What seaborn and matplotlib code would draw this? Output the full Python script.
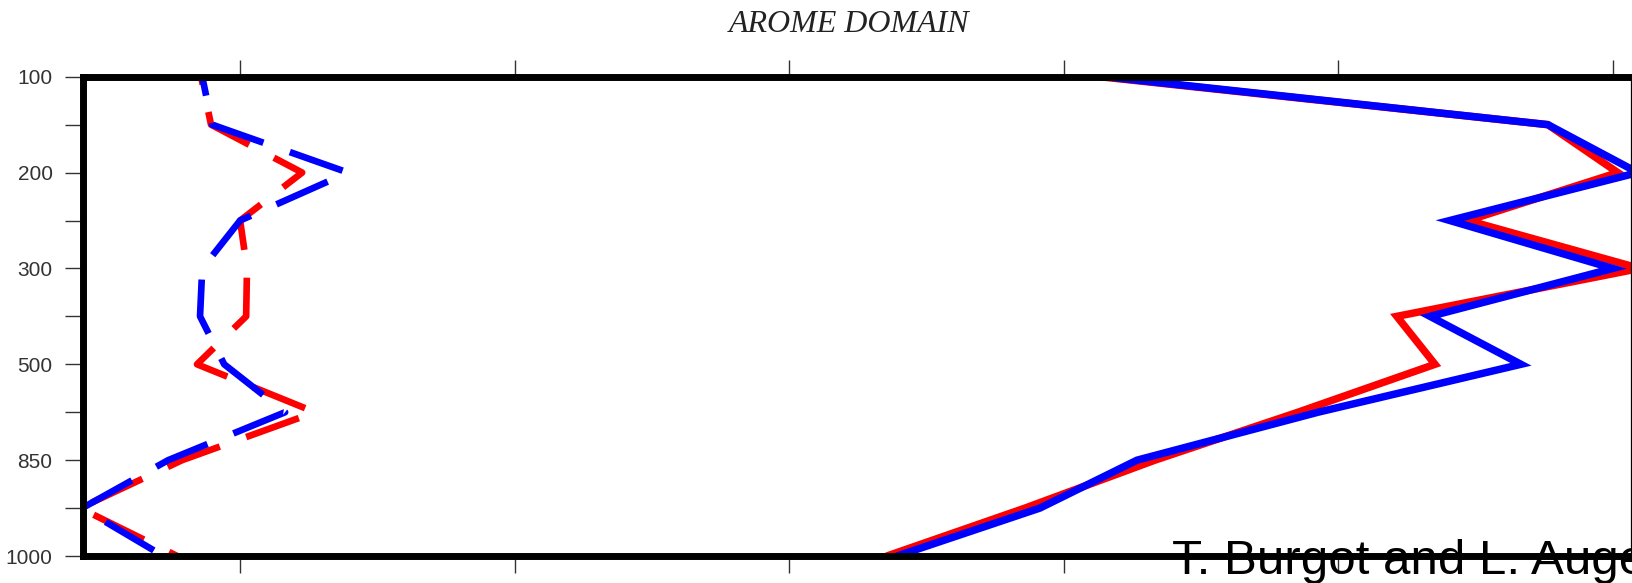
import numpy as np
import matplotlib
matplotlib.use("Agg")
import matplotlib.pyplot as plt
import seaborn as sns

# Pressure levels (hPa), drawn top to bottom at equal spacing
levels = [100, 150, 200, 250, 300, 400, 500, 700, 850, 925, 1000]
labelled_levels = [100, 200, 300, 500, 850, 1000]

# Dashed profiles (left group)
dashed_red = [0.858, 0.894, 1.226, 1.000, 1.025, 1.022, 0.843, 1.273, 0.789, 0.417, 0.771]
dashed_blue = [0.862, 0.898, 1.393, 1.000, 0.862, 0.854, 0.942, 1.164, 0.738, 0.425, 0.720]

# Solid profiles (right group)
solid_red = [4.132, 5.763, 6.018, 5.472, 6.098, 5.213, 5.352, 4.853, 4.332, 3.859, 3.356]
solid_blue = [4.150, 5.763, 6.091, 5.406, 6.000, 5.334, 5.665, 4.926, 4.267, 3.913, 3.393]

x_ticks = [1, 2, 3, 4, 5, 6]
x_range = (0.428, 6.066)

title_text = "AROME DOMAIN"
credit_text = "T. Burgot and L. Auger"

sns.set_theme(style="white")
plt.rcParams["font.family"] = ["Liberation Sans", "DejaVu Sans"]

fig = plt.figure(figsize=(16.32, 5.83), dpi=100)
ax = fig.add_axes([0.0509, 0.0463, 0.9485, 0.8221])

ypos = np.arange(len(levels))

dash_lw = 4.8
solid_lw = 5.4
sns.lineplot(x=dashed_red, y=ypos, sort=False, orient="y", ax=ax, color="#ff0000",
             lw=dash_lw, linestyle=(7.2, (8.4, 4.2)), dash_capstyle="butt")
sns.lineplot(x=dashed_blue, y=ypos, sort=False, orient="y", ax=ax, color="#0000ff",
             lw=dash_lw, linestyle=(5.5, (8.4, 4.2)), dash_capstyle="butt")
sns.lineplot(x=solid_red, y=ypos, sort=False, orient="y", ax=ax, color="#ff0000",
             lw=solid_lw, solid_joinstyle="miter")
sns.lineplot(x=solid_blue, y=ypos, sort=False, orient="y", ax=ax, color="#0000ff",
             lw=solid_lw, solid_joinstyle="miter")

ax.set_xlim(*x_range)
ax.set_ylim(len(levels) - 1, 0)
ax.set_xlabel("")
ax.set_ylabel("")

# y axis: a tick at every level, labels on the standard ones
ax.set_yticks(ypos)
ax.set_yticklabels([str(l) if l in labelled_levels else "" for l in levels])
ax.set_xticks(x_ticks)
ax.set_xticklabels([])

ax.tick_params(axis="x", which="both", direction="out", length=12, width=1.0,
               color="#333333", top=True, bottom=True)
ax.tick_params(axis="y", which="both", direction="out", length=13, width=1.0,
               color="#333333", left=True, right=False, pad=9,
               labelsize=15, labelcolor="#333333")

for side in ["top", "bottom", "left"]:
    ax.spines[side].set_linewidth(5.0)
    ax.spines[side].set_color("black")
ax.spines["right"].set_linewidth(0.9)
ax.spines["right"].set_color("black")
for sp in ax.spines.values():
    sp.set_visible(True)

fig.text(0.520, 1 - 32 / 583, title_text, ha="center", va="baseline",
         fontsize=23, style="italic", color="#222222",
         family=["Liberation Serif", "DejaVu Serif"])
fig.text(1172 / 1632, 1 - 574 / 583, credit_text, ha="left", va="baseline",
         fontsize=35.5, color="black", zorder=10)

fig.savefig("out.png", dpi=100, facecolor="white")
